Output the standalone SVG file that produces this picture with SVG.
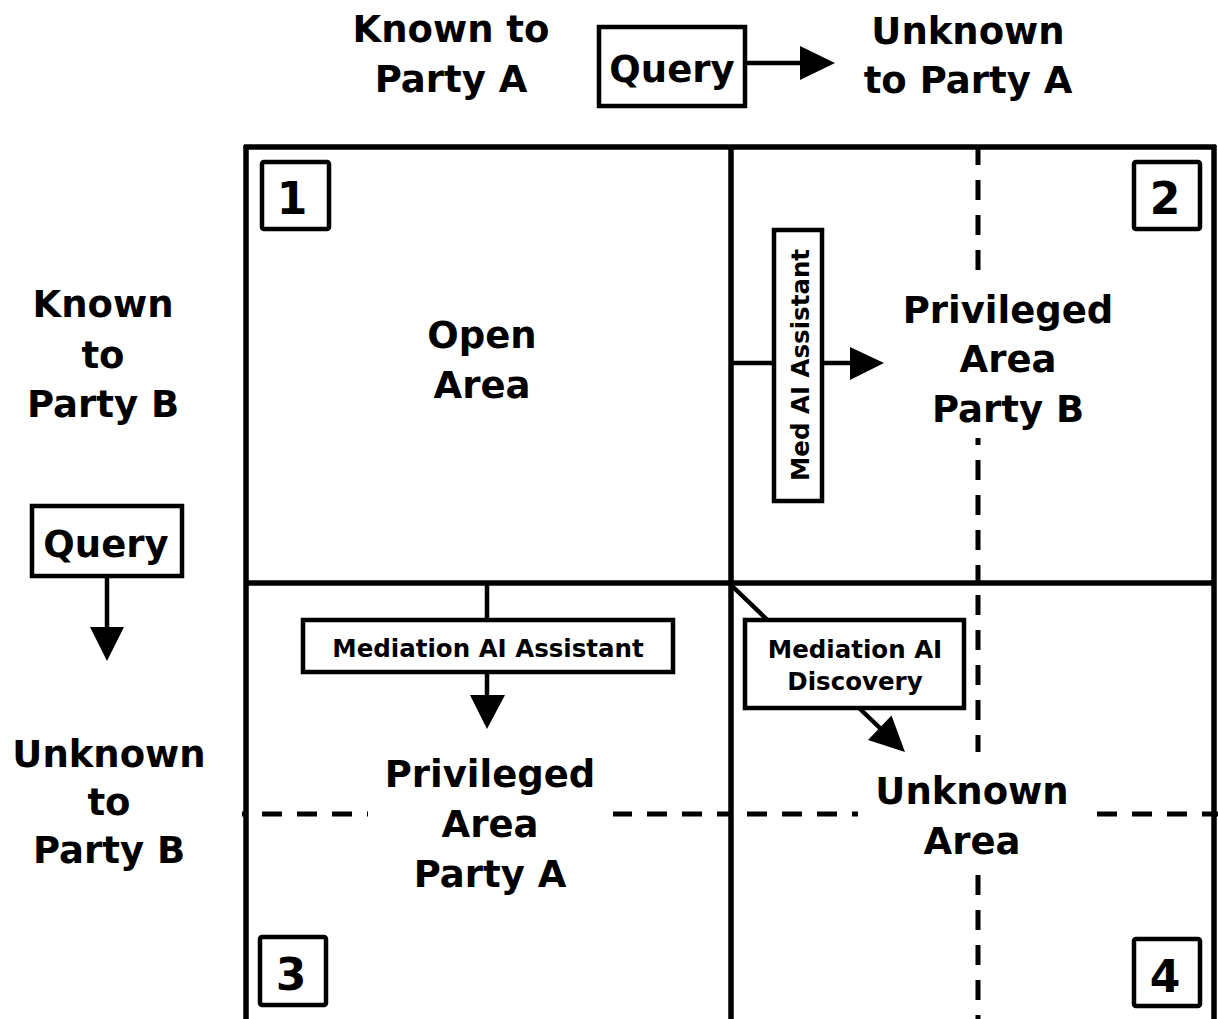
<svg xmlns="http://www.w3.org/2000/svg" width="1218" height="1019" viewBox="0 0 1218 1019">
<style>
  text { font-family: "DejaVu Sans", "Liberation Sans", sans-serif; font-weight: bold; fill: #000; text-anchor: middle; }
  .big { font-size: 37px; }
  .num { font-size: 44px; }
  .small { font-size: 24.5px; }
  .grid { stroke: #000; stroke-width: 5.5; fill: none; }
  .dash { stroke: #000; stroke-width: 5; fill: none; stroke-dasharray: 20 15; }
  .box { fill: #fff; stroke: #000; stroke-width: 4.5; }
  .nbox { fill: #fff; stroke: #000; stroke-width: 4.5; }
  .conn { stroke: #000; stroke-width: 4.5; fill: none; }
  .head { fill: #000; stroke: none; }
  .bg { fill: #fff; stroke: none; }
</style>

<g id="grid">
  <line class="grid" x1="244" y1="147" x2="1216" y2="147"/>
  <line class="grid" x1="246" y1="145" x2="246" y2="1019"/>
  <line class="grid" x1="731" y1="145" x2="731" y2="1019"/>
  <line class="grid" x1="1214" y1="145" x2="1214" y2="1019"/>
  <line class="grid" x1="244" y1="583" x2="1216" y2="583"/>
</g>

<g id="dashed-lines">
  <line class="dash" x1="978" y1="145" x2="978" y2="583"/>
  <line class="dash" x1="978" y1="595" x2="978" y2="1019"/>
  <line class="dash" x1="242" y1="814" x2="729" y2="814" stroke-dashoffset="15"/>
  <line class="dash" x1="747" y1="814" x2="1218" y2="814"/>
</g>

<g id="label-backgrounds">
  <rect class="bg" x="900" y="270" width="215" height="168"/>
  <rect class="bg" x="368" y="750" width="245" height="150"/>
  <rect class="bg" x="858" y="752" width="235" height="121"/>
</g>

<g id="axis-top">
  <text class="big" x="451" y="42">Known to</text>
  <text class="big" x="451" y="92">Party A</text>
  <text class="big" x="968" y="44">Unknown</text>
  <text class="big" x="968" y="93">to Party A</text>
</g>
<g id="query-top">
  <rect class="box" x="599" y="27" width="146" height="79"/>
  <text class="big" x="672" y="82">Query</text>
</g>

<g id="axis-left">
  <text class="big" x="103" y="317">Known</text>
  <text class="big" x="103" y="368">to</text>
  <text class="big" x="103" y="417">Party B</text>
  <text class="big" x="109" y="767">Unknown</text>
  <text class="big" x="109" y="815">to</text>
  <text class="big" x="109" y="863">Party B</text>
</g>
<g id="query-left">
  <rect class="box" x="32" y="506" width="150" height="70"/>
  <text class="big" x="106" y="557">Query</text>
</g>

<g id="connectors">
  <line class="conn" x1="745" y1="63" x2="802" y2="63"/>
  <polygon class="head" points="800,46 835,63 800,80"/>
  <line class="conn" x1="107" y1="576" x2="107" y2="629"/>
  <polygon class="head" points="90,627 124,627 107,661"/>
  <line class="conn" x1="731" y1="363" x2="852" y2="363"/>
  <polygon class="head" points="850,347 884,363 850,380"/>
  <line class="conn" x1="487" y1="583" x2="487" y2="697"/>
  <polygon class="head" points="470,695 505,695 487,729"/>
  <line class="conn" x1="731" y1="585" x2="882" y2="730"/>
  <polygon class="head" points="868,740 905,752 891.5,715.4"/>
</g>

<g id="q1">
  <rect class="nbox" x="262" y="162" width="67" height="67" rx="2"/>
  <text class="num" x="292" y="214">1</text>
  <text class="big" x="482" y="348">Open</text>
  <text class="big" x="482" y="398">Area</text>
</g>
<g id="q2">
  <rect class="nbox" x="1134" y="162" width="66" height="67" rx="2"/>
  <text class="num" x="1165" y="214">2</text>
  <text class="big" x="1008" y="323">Privileged</text>
  <text class="big" x="1008" y="372">Area</text>
  <text class="big" x="1008" y="422">Party B</text>
</g>
<g id="q3">
  <rect class="nbox" x="260" y="937" width="66" height="68" rx="2"/>
  <text class="num" x="291" y="990">3</text>
  <text class="big" x="490" y="787">Privileged</text>
  <text class="big" x="490" y="837">Area</text>
  <text class="big" x="490" y="887">Party A</text>
</g>
<g id="q4">
  <rect class="nbox" x="1134" y="939" width="66" height="67" rx="2"/>
  <text class="num" x="1165" y="992">4</text>
  <text class="big" x="972" y="804">Unknown</text>
  <text class="big" x="972" y="854">Area</text>
</g>

<g id="med-ai-assistant-vertical">
  <rect class="box" x="774" y="230" width="48" height="271"/>
  <text class="small" transform="translate(809,365) rotate(-90)">Med AI Assistant</text>
</g>
<g id="mediation-ai-assistant">
  <rect class="box" x="303" y="620" width="370" height="52"/>
  <text class="small" x="488" y="657">Mediation AI Assistant</text>
</g>
<g id="mediation-ai-discovery">
  <rect class="box" x="745" y="620" width="219" height="88"/>
  <text class="small" x="855" y="658">Mediation AI</text>
  <text class="small" x="855" y="690">Discovery</text>
</g>
</svg>
